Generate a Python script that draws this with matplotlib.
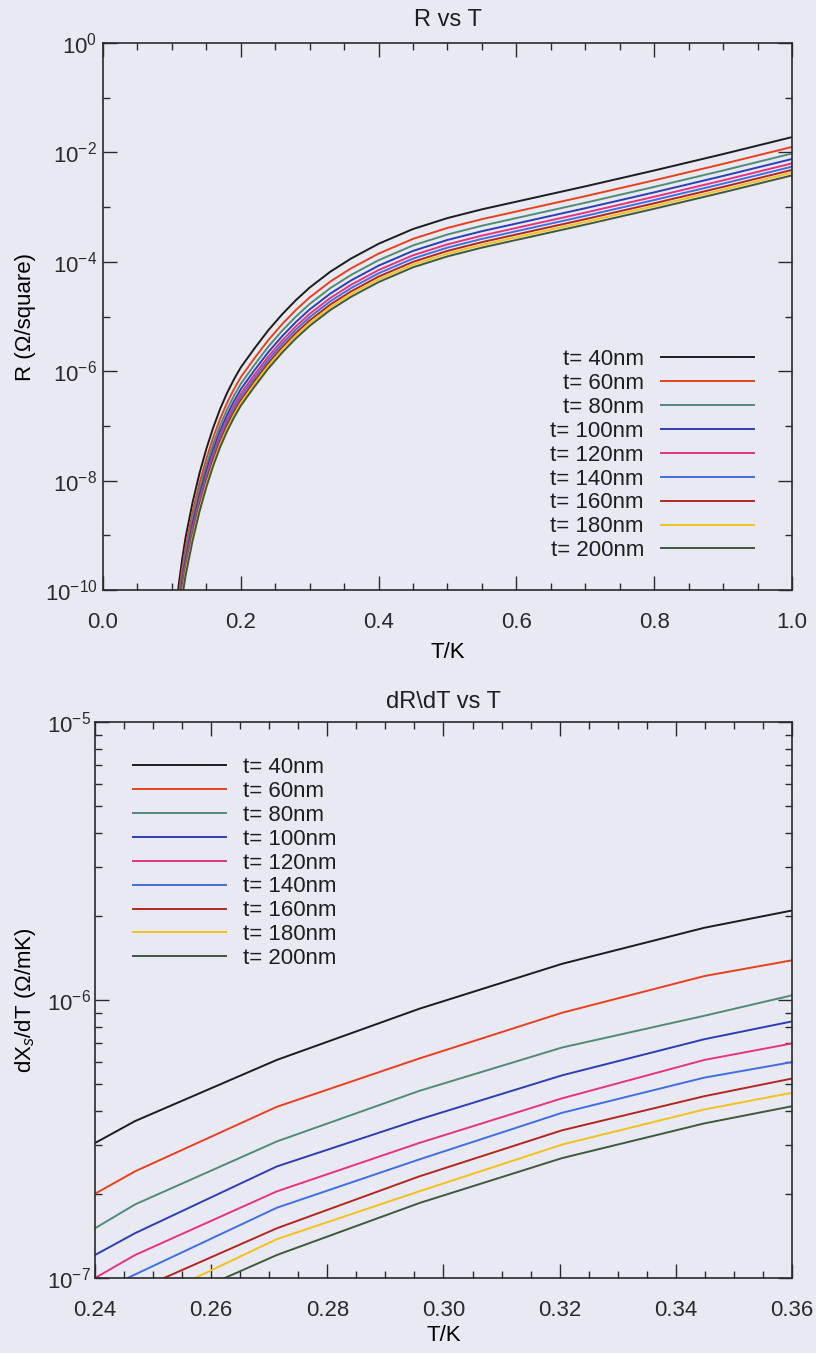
import numpy as np
import matplotlib
matplotlib.use("Agg")
import matplotlib.pyplot as plt
from matplotlib.ticker import MultipleLocator, FormatStrFormatter, LogLocator, NullFormatter

plt.rcParams['font.family'] = ['Liberation Sans', 'DejaVu Sans']
plt.rcParams['mathtext.fontset'] = 'custom'
plt.rcParams['mathtext.rm'] = 'Liberation Sans'
plt.rcParams['mathtext.it'] = 'Liberation Sans:italic'
plt.rcParams['mathtext.bf'] = 'Liberation Sans:bold'
plt.rcParams['text.color'] = '#1e1e1e'
plt.rcParams['axes.edgecolor'] = '#2a2a2a'
plt.rcParams['xtick.color'] = '#2a2a2a'
plt.rcParams['ytick.color'] = '#2a2a2a'

bg = '#e9e9f3'
fs = 16

labels = ["t= 40nm", "t= 60nm", "t= 80nm", "t= 100nm", "t= 120nm",
          "t= 140nm", "t= 160nm", "t= 180nm", "t= 200nm"]
colors = ['#1c1c1c', '#e8401e', '#4e8c74', '#2b3fb5', '#e5337c',
          '#3f6fe0', '#b3261e', '#f2c21a', '#3d5a3a']

# sheet resistance, stored as log10(R / (Ohm/square))
T_r = [0.105, 0.11, 0.115, 0.12, 0.13, 0.14, 0.15, 0.16, 0.17, 0.18, 0.19, 0.20, 0.22, 0.24,
       0.26, 0.28, 0.30, 0.33, 0.36, 0.40, 0.45, 0.50, 0.55, 0.60, 0.70, 0.80, 0.90, 1.00]
logR_40 = [-10.43, -9.90, -9.43, -9.03, -8.40, -7.87, -7.42, -7.03, -6.69, -6.40, -6.15, -5.93, -5.58, -5.25,
           -4.96, -4.70, -4.47, -4.18, -3.94, -3.67, -3.40, -3.20, -3.04, -2.90, -2.62, -2.33, -2.03, -1.72]
logR_60 = [-10.61, -10.08, -9.61, -9.21, -8.58, -8.05, -7.60, -7.21, -6.87, -6.58, -6.33, -6.11, -5.76, -5.43,
           -5.14, -4.88, -4.65, -4.36, -4.12, -3.85, -3.58, -3.38, -3.22, -3.08, -2.80, -2.51, -2.21, -1.90]
logR_80 = [-10.73, -10.20, -9.73, -9.33, -8.70, -8.17, -7.72, -7.33, -6.99, -6.70, -6.45, -6.23, -5.88, -5.55,
           -5.26, -5.00, -4.77, -4.48, -4.24, -3.97, -3.70, -3.50, -3.34, -3.20, -2.92, -2.63, -2.33, -2.02]
logR_100 = [-10.83, -10.30, -9.83, -9.43, -8.80, -8.27, -7.82, -7.43, -7.09, -6.80, -6.55, -6.33, -5.98, -5.65,
            -5.36, -5.10, -4.87, -4.58, -4.34, -4.07, -3.80, -3.60, -3.44, -3.30, -3.02, -2.73, -2.43, -2.12]
logR_120 = [-10.91, -10.38, -9.91, -9.51, -8.88, -8.35, -7.90, -7.51, -7.17, -6.88, -6.63, -6.41, -6.06, -5.73,
            -5.44, -5.18, -4.95, -4.66, -4.42, -4.15, -3.88, -3.68, -3.52, -3.38, -3.10, -2.81, -2.51, -2.20]
logR_140 = [-10.97, -10.44, -9.97, -9.57, -8.94, -8.41, -7.96, -7.57, -7.23, -6.94, -6.69, -6.47, -6.12, -5.79,
            -5.50, -5.24, -5.01, -4.72, -4.48, -4.21, -3.94, -3.74, -3.58, -3.44, -3.16, -2.87, -2.57, -2.26]
logR_160 = [-11.03, -10.50, -10.03, -9.63, -9.00, -8.47, -8.02, -7.63, -7.29, -7.00, -6.75, -6.53, -6.18, -5.85,
            -5.56, -5.30, -5.07, -4.78, -4.54, -4.27, -4.00, -3.80, -3.64, -3.50, -3.22, -2.93, -2.63, -2.32]
logR_180 = [-11.08, -10.55, -10.08, -9.68, -9.05, -8.52, -8.07, -7.68, -7.34, -7.05, -6.80, -6.58, -6.23, -5.90,
            -5.61, -5.35, -5.12, -4.83, -4.59, -4.32, -4.05, -3.85, -3.69, -3.55, -3.27, -2.98, -2.68, -2.37]
logR_200 = [-11.13, -10.60, -10.13, -9.73, -9.10, -8.57, -8.12, -7.73, -7.39, -7.10, -6.85, -6.63, -6.28, -5.95,
            -5.66, -5.40, -5.17, -4.88, -4.64, -4.37, -4.10, -3.90, -3.74, -3.60, -3.32, -3.03, -2.73, -2.42]

# dX_s/dT in Ohm/mK
T_d = [0.24, 0.2469, 0.2713, 0.2958, 0.3204, 0.3449, 0.36]
dX_40 = [3.06e-7, 3.67e-7, 6.09e-7, 9.30e-7, 1.35e-6, 1.82e-6, 2.10e-6]
dX_60 = [2.01e-7, 2.42e-7, 4.13e-7, 6.16e-7, 9.00e-7, 1.22e-6, 1.39e-6]
dX_80 = [1.51e-7, 1.84e-7, 3.10e-7, 4.71e-7, 6.75e-7, 8.78e-7, 1.04e-6]
dX_100 = [1.21e-7, 1.45e-7, 2.52e-7, 3.72e-7, 5.36e-7, 7.23e-7, 8.38e-7]
dX_120 = [1.00e-7, 1.21e-7, 2.05e-7, 3.06e-7, 4.43e-7, 6.09e-7, 6.98e-7]
dX_140 = [0.88e-7, 1.03e-7, 1.79e-7, 2.67e-7, 3.93e-7, 5.26e-7, 5.98e-7]
dX_160 = [0.78e-7, 0.90e-7, 1.51e-7, 2.32e-7, 3.40e-7, 4.51e-7, 5.22e-7]
dX_180 = [0.68e-7, 0.79e-7, 1.38e-7, 2.05e-7, 3.02e-7, 4.04e-7, 4.64e-7]
dX_200 = [0.62e-7, 0.72e-7, 1.21e-7, 1.86e-7, 2.70e-7, 3.60e-7, 4.15e-7]

logR_all = [logR_40, logR_60, logR_80, logR_100, logR_120, logR_140, logR_160, logR_180, logR_200]
dX_all = [dX_40, dX_60, dX_80, dX_100, dX_120, dX_140, dX_160, dX_180, dX_200]

fig = plt.figure(figsize=(8.16, 13.53), dpi=100, facecolor=bg)
ax1 = fig.add_axes([0.1262, 0.5639, 0.8444, 0.4043])
ax2 = fig.add_axes([0.1164, 0.0554, 0.8542, 0.4109])


def style(ax, ypad):
    ax.set_facecolor(bg)
    for s in ax.spines.values():
        s.set_linewidth(1.2)
    ax.tick_params(which='both', direction='in', top=True, right=True,
                   labelsize=fs, width=1.0)
    ax.tick_params(which='major', length=10)
    ax.tick_params(which='minor', length=5)
    ax.tick_params(axis='x', pad=16)
    ax.tick_params(axis='y', pad=ypad)


# top panel: R vs T
for lr, c, lab in zip(logR_all, colors, labels):
    ax1.plot(T_r, 10.0 ** np.array(lr), color=c, lw=1.4, label=lab)
ax1.set_yscale('log')
ax1.set_xlim(0, 1.0)
ax1.set_ylim(1e-10, 1e0)
style(ax1, 4)
ax1.xaxis.set_major_locator(MultipleLocator(0.2))
ax1.xaxis.set_minor_locator(MultipleLocator(0.05))
ax1.xaxis.set_major_formatter(FormatStrFormatter('%.1f'))
exps = np.arange(-10, 1, 2)
ax1.set_yticks(10.0 ** exps)
ax1.set_yticklabels([r'$10^{%d}$' % e for e in exps])
ax1.set_yticks(10.0 ** np.arange(-9, 0, 2), minor=True)
ax1.yaxis.set_minor_formatter(NullFormatter())
ax1.set_xlabel('T/K', fontsize=fs, labelpad=6)
ax1.set_ylabel('R (Ω/square)', fontsize=fs, labelpad=6)
ax1.set_title('R vs T', fontsize=17, pad=12)
ax1.legend(loc='upper right', bbox_to_anchor=(0.924, 0.742), bbox_transform=fig.transFigure,
           frameon=False, markerfirst=False, fontsize=fs, handlelength=4.2,
           handletextpad=0.75, labelspacing=0.13, borderpad=0, borderaxespad=0)

# bottom panel: dX_s/dT vs T
for d, c, lab in zip(dX_all, colors, labels):
    ax2.plot(T_d, d, color=c, lw=1.4, label=lab)
ax2.set_yscale('log')
ax2.set_xlim(0.24, 0.36)
ax2.set_ylim(1e-7, 1e-5)
style(ax2, 3)
ax2.xaxis.set_major_locator(MultipleLocator(0.02))
ax2.xaxis.set_minor_locator(MultipleLocator(0.005))
ax2.xaxis.set_major_formatter(FormatStrFormatter('%.2f'))
ax2.yaxis.set_major_locator(LogLocator(base=10))
ax2.yaxis.set_minor_locator(LogLocator(base=10, subs=np.arange(2, 10)))
ax2.yaxis.set_minor_formatter(NullFormatter())
ax2.set_xlabel('T/K', fontsize=fs, labelpad=3)
ax2.set_ylabel('dX$_s$/dT (Ω/mK)', fontsize=fs, labelpad=6)
ax2.set_title('dR\\dT vs T', fontsize=17, pad=10)
ax2.legend(loc='upper left', bbox_to_anchor=(0.163, 0.4405), bbox_transform=fig.transFigure,
           frameon=False, fontsize=fs, handlelength=4.2,
           handletextpad=0.75, labelspacing=0.13, borderpad=0, borderaxespad=0)

fig.savefig('out.png', dpi=100, facecolor=bg)
